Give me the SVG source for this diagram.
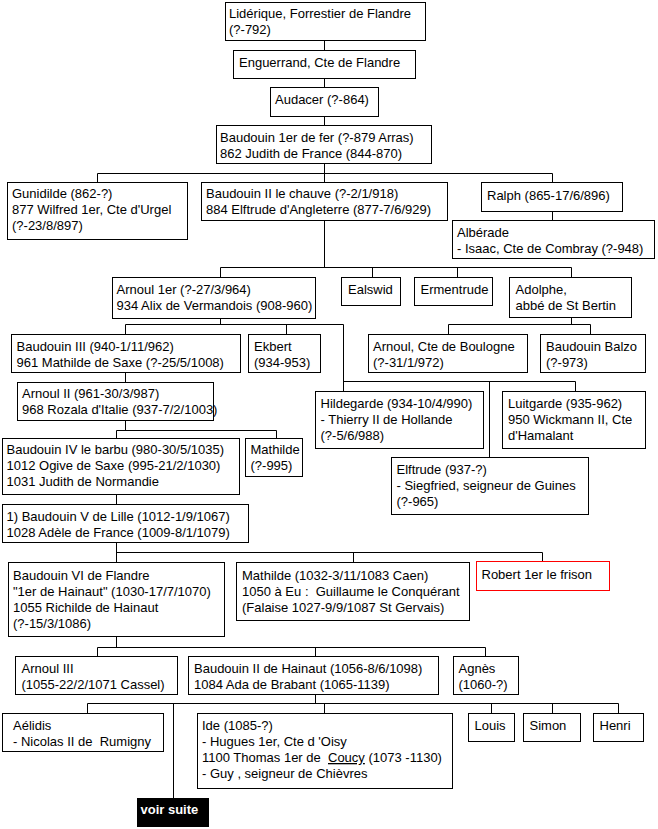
<svg xmlns="http://www.w3.org/2000/svg" width="658" height="829" viewBox="0 0 658 829">
<style>
.b{fill:#fff;stroke:#000;stroke-width:1}
.r{fill:#fff;stroke:#f00;stroke-width:1}
.t{font-family:"Liberation Sans",Arial,sans-serif;font-size:13px;fill:#000}
.w{font-family:"Liberation Sans",Arial,sans-serif;font-size:13px;font-weight:bold;fill:#fff}
.c{stroke:#000;stroke-width:1;fill:none}
</style>
<rect width="658" height="829" fill="#fff"/>
<g id="connectors" class="c">
<path d="M324.5 40.5V50.5M324.5 78.5V87.5M324.5 116.5V125.5M324.5 163.5V182.5"/>
<path d="M97.5 173.5H552.5M97.5 173.5V182.5M552.5 173.5V182.5M552.5 211.5V220.5"/>
<path d="M324.5 220.5V267.5M220.5 267.5H571.5M220.5 267.5V277.5M372.5 267.5V277.5M457.5 267.5V277.5M571.5 267.5V277.5"/>
<path d="M220.5 318.5V324.5M125.5 324.5H343.5M125.5 324.5V334.5M286.5 324.5V334.5M343.5 324.5V391.5"/>
<path d="M571.5 317.5V324.5M448.5 324.5H590.5M448.5 324.5V334.5M590.5 324.5V334.5"/>
<path d="M343.5 381.5H575.5M489.5 381.5V457.5M575.5 381.5V391.5"/>
<path d="M125.5 372.5V382.5M125.5 420.5V430.5M116.5 430.5H276.5M116.5 430.5V438.5M276.5 430.5V438.5"/>
<path d="M116.5 494.5V504.5M116.5 542.5V562.5M116.5 552.5H542.5M353.5 552.5V562.5M542.5 552.5V561.5"/>
<path d="M116.5 636.5V647.5M97.5 647.5H485.5M97.5 647.5V656.5M315.5 647.5V656.5M485.5 647.5V656.5"/>
<path d="M315.5 694.5V703.5M87.5 703.5H618.5M87.5 703.5V713.5M173.5 703.5V798M324.5 703.5V713.5M491.5 703.5V713.5M552.5 703.5V713.5M618.5 703.5V713.5"/>
</g>
<g id="liderique"><rect class="b" x="225.5" y="2.5" width="200" height="38"/><text class="t"><tspan x="229" y="18">Lidérique, Forrestier de Flandre</tspan><tspan x="229" y="34">(?-792)</tspan></text></g>
<g id="enguerrand"><rect class="b" x="233.5" y="50.5" width="182" height="28"/><text class="t" x="239" y="67">Enguerrand, Cte de Flandre</text></g>
<g id="audacer"><rect class="b" x="270.5" y="87.5" width="108" height="29"/><text class="t" x="275" y="104">Audacer (?-864)</text></g>
<g id="baudouin1"><rect class="b" x="216.5" y="125.5" width="215" height="38"/><text class="t"><tspan x="220" y="141.5">Baudouin 1er de fer (?-879 Arras)</tspan><tspan x="220" y="157.5">862 Judith de France (844-870)</tspan></text></g>
<g id="gunidilde"><rect class="b" x="7.5" y="182.5" width="180" height="57"/><text class="t"><tspan x="12" y="197.5">Gunidilde (862-?)</tspan><tspan x="12" y="213.5">877 Wilfred 1er, Cte d'Urgel</tspan><tspan x="12" y="229.5">(?-23/8/897)</tspan></text></g>
<g id="baudouin2"><rect class="b" x="201.5" y="182.5" width="246" height="38"/><text class="t"><tspan x="206" y="197.5">Baudouin II le chauve (?-2/1/918)</tspan><tspan x="206" y="213.5">884 Elftrude d'Angleterre (877-7/6/929)</tspan></text></g>
<g id="ralph"><rect class="b" x="481.5" y="182.5" width="141" height="29"/><text class="t" x="487" y="200">Ralph (865-17/6/896)</text></g>
<g id="alberade"><rect class="b" x="452.5" y="220.5" width="202" height="38"/><text class="t"><tspan x="457" y="236.5">Albérade</tspan><tspan x="457" y="252.5">- Isaac, Cte de Combray (?-948)</tspan></text></g>
<g id="arnoul1"><rect class="b" x="112.5" y="277.5" width="203" height="41"/><text class="t"><tspan x="116.5" y="293.5">Arnoul 1er (?-27/3/964)</tspan><tspan x="116.5" y="309.5">934 Alix de Vermandois (908-960)</tspan></text></g>
<g id="ealswid"><rect class="b" x="341.5" y="277.5" width="59" height="28"/><text class="t" x="348" y="293.5">Ealswid</text></g>
<g id="ermentrude"><rect class="b" x="414.5" y="277.5" width="78" height="28"/><text class="t" x="420.5" y="293.5">Ermentrude</text></g>
<g id="adolphe"><rect class="b" x="509.5" y="277.5" width="122" height="40"/><text class="t"><tspan x="515.5" y="293.5">Adolphe,</tspan><tspan x="515.5" y="309.5">abbé de St Bertin</tspan></text></g>
<g id="baudouin3"><rect class="b" x="11.5" y="334.5" width="229" height="38"/><text class="t"><tspan x="16.5" y="351">Baudouin III (940-1/11/962)</tspan><tspan x="16.5" y="367">961 Mathilde de Saxe (?-25/5/1008)</tspan></text></g>
<g id="ekbert"><rect class="b" x="248.5" y="334.5" width="72" height="38"/><text class="t"><tspan x="254" y="351">Ekbert</tspan><tspan x="254" y="367">(934-953)</tspan></text></g>
<g id="arnoul-boulogne"><rect class="b" x="368.5" y="334.5" width="159" height="38"/><text class="t"><tspan x="373" y="351">Arnoul, Cte de Boulogne</tspan><tspan x="373" y="367">(?-31/1/972)</tspan></text></g>
<g id="baudouin-balzo"><rect class="b" x="540.5" y="334.5" width="105" height="38"/><text class="t"><tspan x="546" y="351">Baudouin Balzo</tspan><tspan x="546" y="367">(?-973)</tspan></text></g>
<g id="arnoul2"><rect class="b" x="17.5" y="382.5" width="196" height="38"/><text class="t"><tspan x="22" y="398">Arnoul II (961-30/3/987)</tspan><tspan x="22" y="414">968 Rozala d'Italie (937-7/2/1003)</tspan></text></g>
<g id="hildegarde"><rect class="b" x="315.5" y="391.5" width="168" height="57"/><text class="t"><tspan x="320.5" y="408">Hildegarde (934-10/4/990)</tspan><tspan x="320.5" y="424">- Thierry II de Hollande</tspan><tspan x="320.5" y="440">(?-5/6/988)</tspan></text></g>
<g id="luitgarde"><rect class="b" x="502.5" y="391.5" width="143" height="57"/><text class="t"><tspan x="508" y="408">Luitgarde (935-962)</tspan><tspan x="508" y="424">950 Wickmann II, Cte</tspan><tspan x="508" y="440">d'Hamalant</tspan></text></g>
<g id="baudouin4"><rect class="b" x="2.5" y="438.5" width="237" height="56"/><text class="t"><tspan x="6.5" y="454">Baudouin IV le barbu (980-30/5/1035)</tspan><tspan x="6.5" y="470">1012 Ogive de Saxe (995-21/2/1030)</tspan><tspan x="6.5" y="486">1031 Judith de Normandie</tspan></text></g>
<g id="mathilde995"><rect class="b" x="245.5" y="438.5" width="57" height="38"/><text class="t"><tspan x="250.5" y="454">Mathilde</tspan><tspan x="250.5" y="470">(?-995)</tspan></text></g>
<g id="elftrude"><rect class="b" x="391.5" y="457.5" width="197" height="57"/><text class="t"><tspan x="396.5" y="474">Elftrude (937-?)</tspan><tspan x="396.5" y="490">- Siegfried, seigneur de Guines</tspan><tspan x="396.5" y="506">(?-965)</tspan></text></g>
<g id="baudouin5"><rect class="b" x="2.5" y="504.5" width="246" height="38"/><text class="t"><tspan x="6.5" y="520.5">1) Baudouin V de Lille (1012-1/9/1067)</tspan><tspan x="6.5" y="536.5">1028 Adèle de France (1009-8/1/1079)</tspan></text></g>
<g id="baudouin6"><rect class="b" x="8.5" y="562.5" width="216" height="74"/><text class="t"><tspan x="13" y="579.5">Baudouin VI de Flandre</tspan><tspan x="13" y="595.5">"1er de Hainaut" (1030-17/7/1070)</tspan><tspan x="13" y="611.5">1055 Richilde de Hainaut</tspan><tspan x="13" y="627.5">(?-15/3/1086)</tspan></text></g>
<g id="mathilde1032"><rect class="b" x="236.5" y="562.5" width="233" height="58"/><text class="t" xml:space="preserve"><tspan x="242" y="579.5">Mathilde (1032-3/11/1083 Caen)</tspan><tspan x="242" y="595.5">1050 à Eu :  Guillaume le Conquérant</tspan><tspan x="242" y="611.5">(Falaise 1027-9/9/1087 St Gervais)</tspan></text></g>
<g id="robert"><rect class="r" x="476.5" y="561.5" width="133" height="29"/><text class="t" x="481.5" y="579">Robert 1er le frison</text></g>
<g id="arnoul3"><rect class="b" x="15.5" y="656.5" width="162" height="38"/><text class="t"><tspan x="21.5" y="673">Arnoul III</tspan><tspan x="21.5" y="689">(1055-22/2/1071 Cassel)</tspan></text></g>
<g id="baudouin2-hainaut"><rect class="b" x="188.5" y="656.5" width="250" height="38"/><text class="t"><tspan x="194" y="673">Baudouin II de Hainaut (1056-8/6/1098)</tspan><tspan x="194" y="689">1084 Ada de Brabant (1065-1139)</tspan></text></g>
<g id="agnes"><rect class="b" x="453.5" y="656.5" width="65" height="38"/><text class="t"><tspan x="458.5" y="673">Agnès</tspan><tspan x="458.5" y="689">(1060-?)</tspan></text></g>
<g id="aelidis"><rect class="b" x="2.5" y="713.5" width="161" height="38"/><text class="t" xml:space="preserve"><tspan x="13" y="730">Aélidis</tspan><tspan x="13" y="746">- Nicolas II de  Rumigny</tspan></text></g>
<g id="ide"><rect class="b" x="197.5" y="713.5" width="255" height="75"/><text class="t" xml:space="preserve"><tspan x="202" y="730">Ide (1085-?)</tspan><tspan x="202" y="746">- Hugues 1er, Cte d 'Oisy</tspan><tspan x="202" y="762">1100 Thomas 1er de  <tspan text-decoration="underline">Coucy</tspan> (1073 -1130)</tspan><tspan x="202" y="778">- Guy , seigneur de Chièvres</tspan></text></g>
<g id="louis"><rect class="b" x="468.5" y="713.5" width="46" height="28"/><text class="t" x="474.5" y="730">Louis</text></g>
<g id="simon"><rect class="b" x="523.5" y="713.5" width="57" height="28"/><text class="t" x="529.5" y="730">Simon</text></g>
<g id="henri"><rect class="b" x="593.5" y="713.5" width="50" height="28"/><text class="t" x="599.5" y="730">Henri</text></g>
<g id="voir-suite"><rect x="137" y="798" width="72" height="29" fill="#000"/><text class="w" x="140.5" y="813.5">voir suite</text></g>
</svg>
